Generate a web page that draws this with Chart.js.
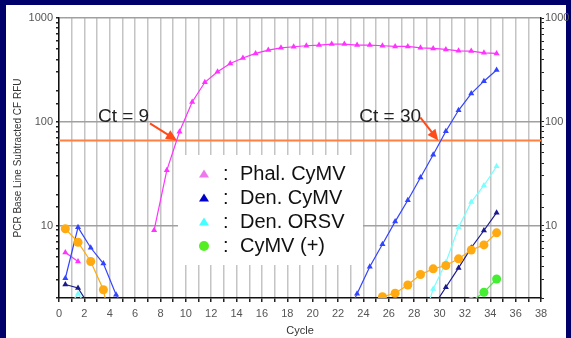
<!DOCTYPE html>
<html>
<head>
<meta charset="utf-8">
<script src="https://cdn.jsdelivr.net/npm/chart.js@4.4.0/dist/chart.umd.min.js"></script>
<style>
  html, body { margin: 0; padding: 0; background: #00006b; }
  #wrap { position: relative; width: 571px; height: 338px; }
</style>
</head>
<body>
<div id="wrap"><canvas id="myChart" width="571" height="338"></canvas></div>
<script>
// cycle positions of the readings
const cycles = [0.5, 1.5, 2.5, 3.5, 4.5, 5.5, 6.5, 7.5, 8.5, 9.5, 10.5, 11.5, 12.5, 13.5, 14.5, 15.5, 16.5, 17.5,
  18.5, 19.5, 20.5, 21.5, 22.5, 23.5, 24.5, 25.5, 26.5, 27.5, 28.5, 29.5, 30.5, 31.5, 32.5, 33.5, 34.5];

// RFU values per series (null = no reading)
const phalCymv = [5.5, 4.5, null, null, null, null, null, 9, 34, 80, 155, 240, 303, 365, 411, 456, 491, 516,
  528, 540, 548, 561, 561, 548, 548, 540, 532, 532, 516, 509, 498, 483, 480, 462, 456];
const denCymvBlue = [3.1, 9.6, 6.1, 4.3, 2.15, 1.35, null, null, null, null, null, null, null, null, null, null, null, null,
  null, null, null, null, 1.2, 2.2, 4.0, 6.6, 10.9, 17.5, 29, 48, 81, 129, 187, 246, 315];
const denCymvNavy = [2.7, 2.5, 1.6, null, null, null, null, null, null, null, null, null, null, null, null, null, null, null,
  null, null, null, null, null, null, null, null, null, null, null, 1.65, 2.54, 3.9, 6.1, 8.95, 13.3];
const denOrsv = [1.5, 2.2, 1.5, null, null, null, null, null, null, null, null, null, null, null, null, null, null, null,
  null, null, null, null, null, null, null, null, null, null, 1.0, 2.44, 4.4, 9.6, 16.8, 24.3, 37.2];
const orangeSample = [9.3, 6.9, 4.5, 2.4, 0.6, null, null, null, null, null, null, null, null, null, null, null, null, null,
  null, null, null, null, null, null, null, 2.06, 2.22, 2.67, 3.37, 3.82, 4.11, 4.77, 5.8, 6.5, 8.5];
const cymvPos = [null, null, null, null, null, null, null, null, null, null, null, null, null, null, null, null, null, null,
  null, null, null, null, null, null, null, null, null, null, null, null, null, null, 1.85, 2.27, 3.05];

const threshold = 66;
const xRange = [0, 38];
const yRange = [2, 1000];
const yLabels = [10, 100, 1000];

const ctLabels = ['Ct = 9', 'Ct = 30'];
const ctCycles = [9.3, 29.9];

const legendNames = ['Phal. CyMV', 'Den. CyMV', 'Den. ORSV', 'CyMV (+)'];
const legendColors = ['#ee77ee', '#0000cc', '#44ffff', '#55ee22'];
const legendShapes = ['triangle', 'triangle', 'triangle', 'circle'];

function toPoints(vals) {
  return cycles.map((c, i) => ({ x: c, y: vals[i] }));
}

function series(vals, color, shape, radius) {
  return {
    data: toPoints(vals),
    borderColor: color,
    backgroundColor: color,
    borderWidth: 1.2,
    pointStyle: shape,
    pointRadius: radius,
    pointBorderWidth: 0,
    spanGaps: false
  };
}

const FONT = "'Liberation Sans', Arial, sans-serif";

const backgroundPlugin = {
  id: 'bg',
  beforeDraw(chart) {
    const ctx = chart.ctx;
    ctx.save();
    ctx.fillStyle = '#00006b';
    ctx.fillRect(0, 0, chart.width, chart.height);
    ctx.fillStyle = '#ffffff';
    ctx.fillRect(6, 5, 560, 333);
    ctx.restore();
  }
};

const legendPlugin = {
  id: 'legendBox',
  beforeDatasetsDraw(chart) {
    const ctx = chart.ctx;
    ctx.save();
    ctx.fillStyle = '#ffffff';
    ctx.fillRect(178, 155, 185, 110);
    ctx.font = '20px ' + FONT;
    ctx.textBaseline = 'middle';
    legendNames.forEach((name, i) => {
      const y = 174 + i * 24;
      ctx.fillStyle = legendColors[i];
      ctx.beginPath();
      if (legendShapes[i] === 'circle') {
        ctx.arc(204, y, 5, 0, Math.PI * 2);
      } else {
        ctx.moveTo(204, y - 4.5);
        ctx.lineTo(209, y + 3.5);
        ctx.lineTo(199, y + 3.5);
        ctx.closePath();
      }
      ctx.fill();
      ctx.fillStyle = '#111';
      ctx.fillText(':', 223, y);
      ctx.fillText(name, 240, y);
    });
    ctx.restore();
  }
};

const ctPlugin = {
  id: 'ctNotes',
  afterDatasetsDraw(chart) {
    const ctx = chart.ctx;
    const xs = chart.scales.x, ys = chart.scales.y;
    const tails = [[-27, -17], [-18, -23]];
    ctx.save();
    ctLabels.forEach((txt, i) => {
      const tx = xs.getPixelForValue(ctCycles[i]);
      const ty = ys.getPixelForValue(threshold);
      ctx.font = '19px ' + FONT;
      ctx.fillStyle = '#222';
      ctx.textBaseline = 'alphabetic';
      ctx.fillText(txt, tx - 79, ty - 18.5);
      const sx = tx + tails[i][0], sy = ty + tails[i][1];
      const ang = Math.atan2(ty - sy, tx - sx);
      ctx.strokeStyle = '#ff4a1a';
      ctx.fillStyle = '#ff4a1a';
      ctx.lineWidth = 2;
      ctx.beginPath();
      ctx.moveTo(sx, sy);
      ctx.lineTo(tx - 8 * Math.cos(ang), ty - 8 * Math.sin(ang));
      ctx.stroke();
      ctx.beginPath();
      ctx.moveTo(tx, ty);
      ctx.lineTo(tx - 11 * Math.cos(ang) + 5 * Math.sin(ang), ty - 11 * Math.sin(ang) - 5 * Math.cos(ang));
      ctx.lineTo(tx - 11 * Math.cos(ang) - 5 * Math.sin(ang), ty - 11 * Math.sin(ang) + 5 * Math.cos(ang));
      ctx.closePath();
      ctx.fill();
    });
    ctx.restore();
  }
};

const logTick = v => (yLabels.includes(v) ? String(v) : '');

new Chart(document.getElementById('myChart'), {
  type: 'line',
  data: {
    datasets: [
      series(cymvPos, '#44ee33', 'circle', 4.5),
      series(orangeSample, '#ffaa11', 'circle', 4.5),
      series(denCymvNavy, '#1a1a8c', 'triangle', 3.5),
      series(denOrsv, '#77ffff', 'triangle', 3.5),
      series(denCymvBlue, '#3344ff', 'triangle', 3.5),
      series(phalCymv, '#ff33ff', 'triangle', 3.5),
      {
        data: [{ x: xRange[0], y: threshold }, { x: xRange[1], y: threshold }],
        borderColor: '#ff8040',
        borderWidth: 2,
        pointRadius: 0
      }
    ]
  },
  options: {
    responsive: false,
    animation: false,
    devicePixelRatio: 1,
    layout: { padding: { top: 18, left: 0, right: 0, bottom: 0 } },
    plugins: { legend: { display: false }, tooltip: { enabled: false } },
    scales: {
      x: {
        type: 'linear',
        position: 'bottom',
        min: xRange[0],
        max: xRange[1],
        afterFit: s => { s.height = 40; },
        ticks: {
          stepSize: 1,
          autoSkip: false,
          maxRotation: 0,
          padding: 5,
          color: '#555',
          font: { family: FONT, size: 11 },
          callback: v => (v % 2 === 0 ? String(v) : '')
        },
        grid: { color: '#c4c4c4', lineWidth: 1.5, tickColor: '#222', tickLength: 4 },
        border: { color: '#111', width: 1.5 },
        title: { display: true, text: 'Cycle', color: '#333', font: { family: FONT, size: 11 }, padding: { top: 0, bottom: 0 } }
      },
      y: {
        type: 'logarithmic',
        position: 'left',
        min: yRange[0],
        max: yRange[1],
        afterFit: s => { s.width = 59; },
        ticks: {
          autoSkip: false,
          padding: 3,
          color: '#555',
          font: { family: FONT, size: 11 },
          callback: logTick
        },
        grid: {
          color: c => (c.tick && yLabels.includes(c.tick.value) ? '#a0a0a0' : 'rgba(0,0,0,0)'),
          lineWidth: 1.5,
          tickColor: '#222',
          tickLength: 3
        },
        border: { color: '#111', width: 1.5 },
        title: {
          display: true,
          text: 'PCR Base Line Subtracted CF RFU',
          color: '#333',
          font: { family: FONT, size: 10 },
          padding: { top: 12, bottom: 0 }
        }
      },
      y2: {
        type: 'logarithmic',
        position: 'right',
        min: yRange[0],
        max: yRange[1],
        afterFit: s => { s.width = 30; },
        ticks: {
          autoSkip: false,
          padding: 1,
          color: '#555',
          font: { family: FONT, size: 11 },
          callback: logTick
        },
        grid: { drawOnChartArea: false, tickColor: '#222', tickLength: 3 },
        border: { color: '#111', width: 1.5 }
      }
    }
  },
  plugins: [backgroundPlugin, legendPlugin, ctPlugin]
});
</script>
</body>
</html>
